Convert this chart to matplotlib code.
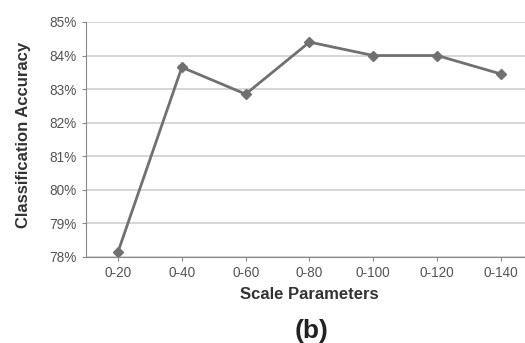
import matplotlib.pyplot as plt
from matplotlib.ticker import FuncFormatter

plt.rcParams['font.family'] = ['Liberation Sans', 'DejaVu Sans']

# 数据
scales = ['0-20', '0-40', '0-60', '0-80', '0-100', '0-120', '0-140']
accuracy = [78.15, 83.65, 82.85, 84.4, 84.0, 84.0, 83.45]

fig = plt.figure(figsize=(5.25, 3.43), dpi=100)
ax = fig.add_axes([0.164, 0.251, 0.851, 0.685])

x = list(range(len(scales)))
ax.plot(x, accuracy, color='#707070', lw=2, marker='D', ms=5.5,
        markerfacecolor='#707070', markeredgecolor='#707070')

ax.set_xlim(-0.5, len(scales) - 0.5)
ax.set_ylim(78, 85)
ax.set_yticks(range(78, 86))
ax.yaxis.set_major_formatter(FuncFormatter(lambda v, p: '%d%%' % v))
ax.set_xticks(x)
ax.set_xticklabels(scales)

ax.grid(axis='y', color='#cfcfcf', lw=1.2)
ax.set_axisbelow(True)
for s in ['top', 'right']:
    ax.spines[s].set_visible(False)
for s in ['left', 'bottom']:
    ax.spines[s].set_color('#888888')
ax.tick_params(colors='#888888', labelcolor='#555555', labelsize=9.8, length=3)

ax.set_ylabel('Classification Accuracy', fontsize=12, fontweight='bold', color='#333333')
ax.yaxis.set_label_coords(-0.123, 0.52)
ax.set_xlabel('Scale Parameters', fontsize=12, fontweight='bold', color='#333333', labelpad=5)
fig.text(0.593, 0.015, '(b)', fontsize=19, fontweight='bold', color='#222222', ha='center')

fig.savefig('out.png', dpi=100)
